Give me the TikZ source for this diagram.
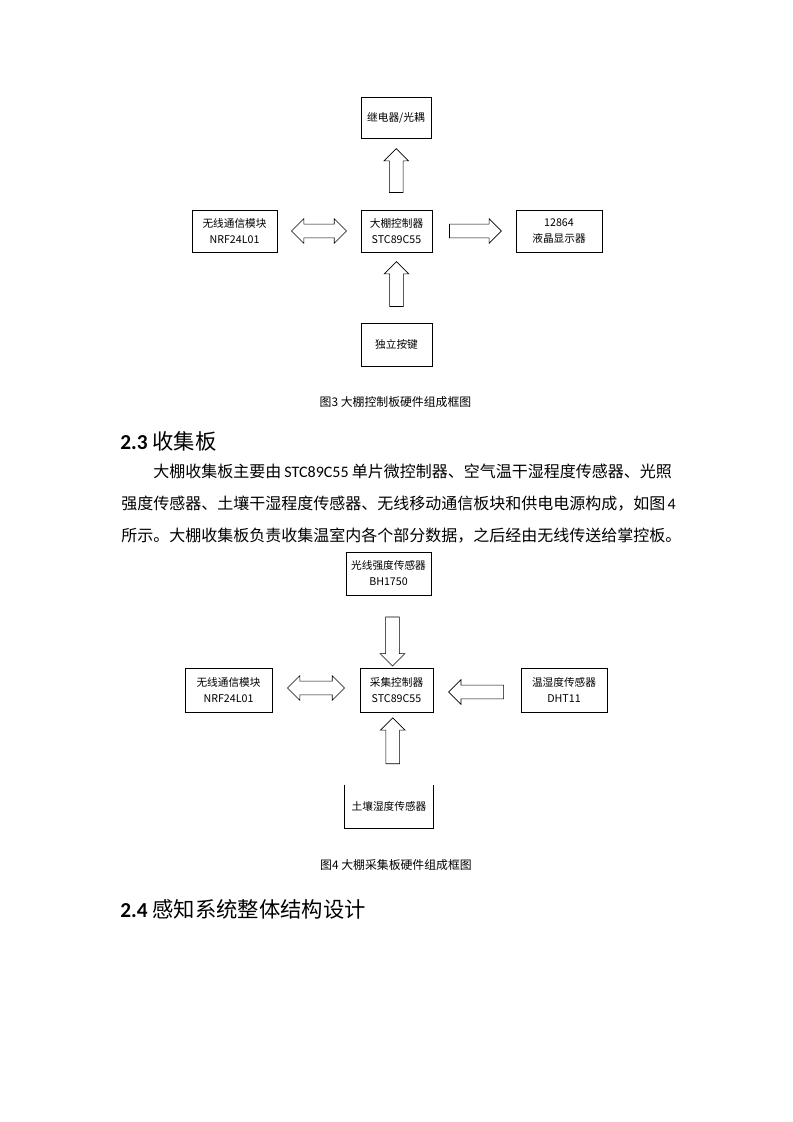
\documentclass[tikz,border=0pt]{standalone}
\usepackage{fontspec}
\setmainfont{Carlito}
\newfontfamily\cjk{Noto Sans CJK SC}
\XeTeXlinebreaklocale "zh"
\XeTeXlinebreakskip = 0pt plus 1pt
\usetikzlibrary{shapes.arrows,calc}

\tikzset{
  blk/.style={draw,line width=0.6pt,align=center,inner sep=0pt,
    font=\cjk\fontsize{8}{12}\selectfont},
  onearrow/.style={single arrow,draw,line width=0.5pt,inner xsep=0pt,inner ysep=4.9pt,
    single arrow head extend=4.1pt,minimum height=#1},
  twoarrow/.style={double arrow,draw,line width=0.5pt,inner xsep=0pt,inner ysep=4.9pt,
    double arrow head extend=4.1pt,minimum height=#1},
  capt/.style={anchor=base,inner sep=0pt,font=\cjk\fontsize{8.9}{10}\selectfont},
  sect/.style={anchor=base west,inner sep=0pt,font=\fontsize{16}{18}\selectfont},
  bodyline/.style={anchor=base west,inner sep=0pt,font=\fontsize{12}{14}\selectfont}
}

\begin{document}
\begin{tikzpicture}[x=0.75pt,y=-0.75pt]
 \useasboundingbox (0,0) rectangle (793,1122);
 % figure 3
 \node[blk,minimum width=52.5pt,minimum height=30.75pt] (relay) at (396,117.5) {继电器/光耦};
 \node[blk,minimum width=63.75pt,minimum height=31.5pt] (radio1) at (234.5,231) {无线通信模块\\NRF24L01};
 \node[blk,minimum width=53.25pt,minimum height=31.5pt] (ctrl1) at (396.5,231) {大棚控制器\\STC89C55};
 \node[blk,minimum width=64.5pt,minimum height=31.5pt] (lcd) at (559,231) {12864\\液晶显示器};
 \node[blk,minimum width=53.25pt,minimum height=32.25pt] (keys) at (396.5,344.5) {独立按键};
 \node[onearrow=33pt,rotate=90] (up1) at ($(ctrl1.north)!0.5!(relay.south)$) {};
 \node[onearrow=33.75pt,rotate=90] (up2) at ($(keys.north)!0.5!(ctrl1.south)$) {};
 \node[twoarrow=41.25pt] (both1) at ($(radio1.east)!0.5!(ctrl1.west)$) {};
 \node[onearrow=39pt,xshift=-1.5pt] (right1) at ($(ctrl1.east)!0.5!(lcd.west)$) {};
 \node[capt] (cap3) at (395.5,406) {图3 大棚控制板硬件组成框图};

 % section 2.3
 \node[sect] (sec23) at (120,449) {\bfseries 2.3 {\cjk\mdseries 收集板}};
 \node[bodyline] (line1) at (153,477) {\hbox to 389pt{\cjk 大棚收集板主要由 {\normalfont STC89C55} 单片微控制器、空气温干湿程度传感器、光照}};
 \node[bodyline] (line2) at (121,509) {\hbox to 414pt{\cjk 强度传感器、土壤干湿程度传感器、无线移动通信板块和供电电源构成，如图 {\normalfont 4}}};
 \node[bodyline] (line3) at (121,541) {\hbox to 420pt{\cjk 所示。大棚收集板负责收集温室内各个部分数据，之后经由无线传送给掌控板。}};

 % figure 4
 \node[blk,minimum width=63.75pt,minimum height=32.25pt] (light) at (388.5,573.5) {光线强度传感器\\BH1750};
 \node[blk,minimum width=65.25pt,minimum height=33pt] (radio2) at (228.5,690) {无线通信模块\\NRF24L01};
 \node[blk,minimum width=54.75pt,minimum height=33pt] (ctrl2) at (396.5,690) {采集控制器\\STC89C55};
 \node[blk,minimum width=64.5pt,minimum height=33pt] (dht) at (564,690) {温湿度传感器\\DHT11};
 \node[blk,draw=none,minimum width=66pt,minimum height=32.25pt] (soil) at (389,806.5) {土壤湿度传感器};
 \draw[line width=0.6pt] (soil.north west) -- (soil.south west) -- (soil.south east) -- (soil.north east);
 \node[onearrow=36.75pt,rotate=-90,xshift=4.9pt] (down3) at ($(light.south)!0.5!(ctrl2.north)$) {};
 \node[onearrow=34.5pt,rotate=90,xshift=3.2pt] (up4) at ($(soil.north)!0.5!(ctrl2.south)$) {};
 \node[twoarrow=42.75pt,yshift=1.5pt] (both2) at ($(radio2.east)!0.5!(ctrl2.west)$) {};
 \node[onearrow=41.25pt,rotate=180,xshift=-1.9pt,yshift=1.5pt] (left2) at ($(ctrl2.east)!0.5!(dht.west)$) {};
 \node[capt] (cap4) at (396,869) {图4 大棚采集板硬件组成框图};

 % section 2.4
 \node[sect] (sec24) at (120,917) {\bfseries 2.4 {\cjk\mdseries 感知系统整体结构设计}};
\end{tikzpicture}
\end{document}
